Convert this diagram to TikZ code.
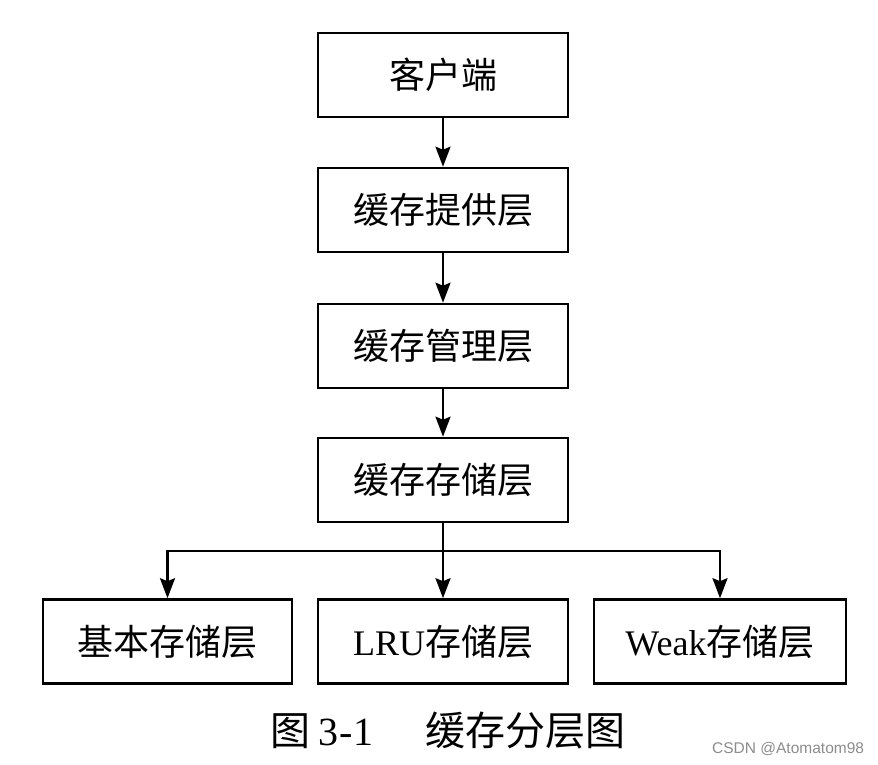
\documentclass[tikz,border=0pt]{standalone}
\usepackage{fontspec}
\setmainfont{Liberation Serif}
\newfontfamily\cjk{Noto Sans CJK SC}
\newfontfamily\wm{Liberation Sans}
\usetikzlibrary{arrows.meta}
\tikzset{
  layerbox/.style={draw=black, line width=2.6pt, minimum height=84pt, inner sep=0pt,
    font=\fontsize{36}{42}\selectfont},
  flow/.style={line width=2.4pt, -{Stealth[length=20pt,width=15pt,inset=3pt]}},
  plainline/.style={line width=2.4pt}
}
\begin{document}
\begin{tikzpicture}[x=1pt,y=-1pt]
\useasboundingbox (0,0) rectangle (878,764);
\node[layerbox, minimum width=250pt] (b1) at (443,75) {\cjk 客户端};
\node[layerbox, minimum width=250pt] (b2) at (443,210) {\cjk 缓存提供层};
\node[layerbox, minimum width=250pt] (b3) at (443,346) {\cjk 缓存管理层};
\node[layerbox, minimum width=250pt] (b4) at (443,480) {\cjk 缓存存储层};
\node[layerbox, minimum width=249pt] (s1) at (167.5,641.5) {\cjk 基本存储层};
\node[layerbox, minimum width=250pt] (s2) at (443,641.5) {LRU{\cjk 存储层}};
\node[layerbox, minimum width=252pt] (s3) at (720,641.5) {Weak{\cjk 存储层}};
\draw[flow] (b1) -- (b2);
\draw[flow] (b2) -- (b3);
\draw[flow] (b3) -- (b4);
\coordinate (split) at (443,551);
\draw[plainline] (b4.south) -- (split);
\draw[flow] (split) -| (s1.north);
\draw[flow] (split) -- (s2.north);
\draw[flow] (split) -| (s3.north);
\node[font=\fontsize{40}{46}\selectfont, anchor=west, inner sep=0pt] (cap) at (270,730) {{\cjk 图}\hspace{0.2em}3\kern1pt-\kern1pt1\hspace{1.3em}{\cjk 缓存分层图}};
\node[font=\wm\fontsize{15.5}{18}\selectfont, text=black!45, anchor=west, inner sep=0pt] (mark) at (712,749) {CSDN @Atomatom98};
\end{tikzpicture}
\end{document}
